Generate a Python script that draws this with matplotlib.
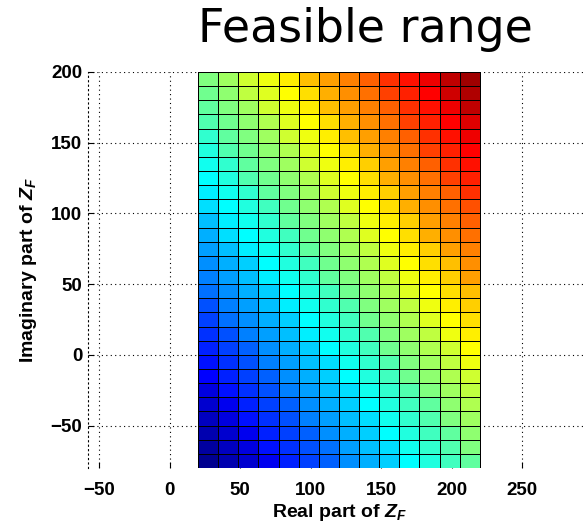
import numpy as np
import matplotlib
matplotlib.use("Agg")
import matplotlib.pyplot as plt
from matplotlib.colors import ListedColormap, Normalize

plt.rcParams["font.family"] = ["Liberation Sans", "DejaVu Sans"]
plt.rcParams["mathtext.fontset"] = "custom"
plt.rcParams["mathtext.rm"] = "Liberation Sans:bold"
plt.rcParams["mathtext.it"] = "Liberation Sans:italic:bold"

# Cell edges of the feasible region (real / imaginary part of Z_F)
real_edges = [20, 34.29, 48.57, 62.86, 77.14, 91.43, 105.71, 120,
              134.29, 148.57, 162.86, 177.14, 191.43, 205.71, 220]
imag_edges = [-80, -70, -60, -50, -40, -30, -20, -10, 0, 10, 20, 30, 40, 50,
              60, 70, 80, 90, 100, 110, 120, 130, 140, 150, 160, 170, 180,
              190, 200]

# Colour level (0..63) of each cell, bottom row first
levels = [
    [0, 2, 4, 6, 9, 11, 13, 16, 18, 20, 23, 25, 27, 29],
    [1, 3, 5, 8, 10, 12, 14, 17, 19, 21, 24, 26, 28, 31],
    [2, 4, 6, 9, 11, 13, 16, 18, 20, 23, 25, 27, 29, 32],
    [3, 5, 8, 10, 12, 15, 17, 19, 21, 24, 26, 28, 31, 33],
    [4, 6, 9, 11, 13, 16, 18, 20, 23, 25, 27, 29, 32, 34],
    [5, 8, 10, 12, 15, 17, 19, 21, 24, 26, 28, 31, 33, 35],
    [7, 9, 11, 13, 16, 18, 20, 23, 25, 27, 30, 32, 34, 36],
    [8, 10, 12, 15, 17, 19, 21, 24, 26, 28, 31, 33, 35, 38],
    [9, 11, 13, 16, 18, 20, 23, 25, 27, 30, 32, 34, 36, 39],
    [10, 12, 15, 17, 19, 22, 24, 26, 28, 31, 33, 35, 38, 40],
    [11, 14, 16, 18, 20, 23, 25, 27, 30, 32, 34, 37, 39, 41],
    [12, 15, 17, 19, 22, 24, 26, 28, 31, 33, 35, 38, 40, 42],
    [14, 16, 18, 20, 23, 25, 27, 30, 32, 34, 37, 39, 41, 43],
    [15, 17, 19, 22, 24, 26, 29, 31, 33, 35, 38, 40, 42, 45],
    [16, 18, 20, 23, 25, 27, 30, 32, 34, 37, 39, 41, 43, 46],
    [17, 19, 22, 24, 26, 29, 31, 33, 35, 38, 40, 42, 45, 47],
    [18, 21, 23, 25, 27, 30, 32, 34, 37, 39, 41, 44, 46, 48],
    [19, 22, 24, 26, 29, 31, 33, 35, 38, 40, 42, 45, 47, 49],
    [21, 23, 25, 27, 30, 32, 34, 37, 39, 41, 44, 46, 48, 50],
    [22, 24, 26, 29, 31, 33, 36, 38, 40, 42, 45, 47, 49, 52],
    [23, 25, 28, 30, 32, 34, 37, 39, 41, 44, 46, 48, 51, 53],
    [24, 26, 29, 31, 33, 36, 38, 40, 42, 45, 47, 49, 52, 54],
    [25, 28, 30, 32, 34, 37, 39, 41, 44, 46, 48, 51, 53, 55],
    [26, 29, 31, 33, 36, 38, 40, 43, 45, 47, 49, 52, 54, 56],
    [28, 30, 32, 34, 37, 39, 41, 44, 46, 48, 51, 53, 55, 57],
    [29, 31, 33, 36, 38, 40, 43, 45, 47, 49, 52, 54, 56, 59],
    [30, 32, 35, 37, 39, 41, 44, 46, 48, 51, 53, 55, 58, 60],
    [31, 33, 36, 38, 40, 43, 45, 47, 49, 52, 54, 56, 59, 61],
]

x_ticks = [-50, 0, 50, 100, 150, 200, 250]
y_ticks = [-50, 0, 50, 100, 150, 200]

# 64-entry jet palette
k = np.arange(1, 65) / 64.0
jet_rgb = np.clip(np.stack([1.5 - np.abs(4 * k - 3),
                            1.5 - np.abs(4 * k - 2),
                            1.5 - np.abs(4 * k - 1)], axis=1), 0, 1)
jet64 = ListedColormap(jet_rgb)

W, H = 586, 527
fig = plt.figure(figsize=(W / 100, H / 100), dpi=100)
ax = fig.add_axes([88 / W, 59 / H, 554 / W, 396 / H])

ax.pcolormesh(real_edges, imag_edges, np.array(levels), cmap=jet64,
              norm=Normalize(-0.5, 63.5), edgecolors="black",
              linewidth=0.6, zorder=2)

ax.set_xlim(-58, 335)
ax.set_ylim(-80, 200)
ax.set_xticks(x_ticks)
ax.set_yticks(y_ticks)
ax.set_axisbelow(True)
ax.grid(True, linestyle=(0, (1, 3)), color="black", linewidth=0.8)

for side in ["top", "right", "bottom"]:
    ax.spines[side].set_visible(False)
ax.spines["left"].set_linestyle((0, (1, 3)))
ax.spines["left"].set_linewidth(0.8)

ax.tick_params(axis="both", direction="in", length=4, width=0.8,
               labelsize=13.5)
ax.tick_params(axis="x", pad=10)
ax.tick_params(axis="y", pad=4)
for lab in ax.get_xticklabels() + ax.get_yticklabels():
    lab.set_fontweight("bold")

fig.text(365 / W, 1 - 42 / H, "Feasible range", fontsize=33,
         family="DejaVu Sans", ha="center", va="baseline")
fig.text(340 / W, 1 - 517 / H, "Real part of $Z_F$", fontsize=14,
         fontweight="bold", ha="center", va="baseline")
fig.text(33 / W, 1 - 270 / H, "Imaginary part of $Z_F$", fontsize=14,
         fontweight="bold", ha="center", va="baseline", rotation=90,
         rotation_mode="anchor")

fig.savefig("out.png", dpi=100)
